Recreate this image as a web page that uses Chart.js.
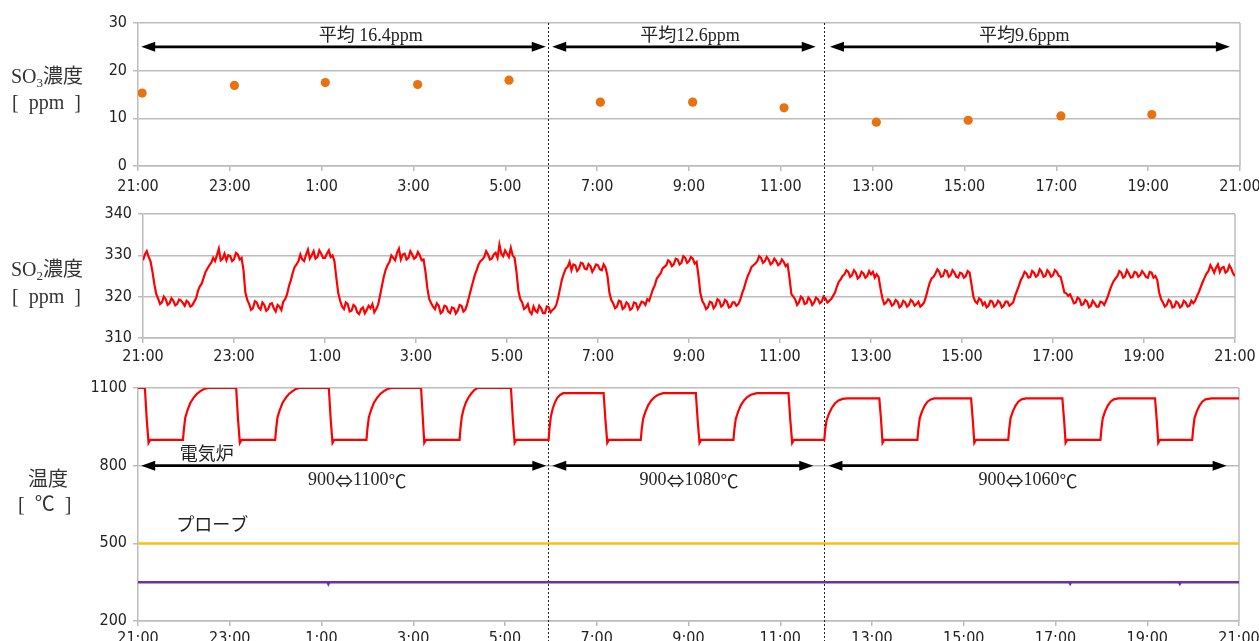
<!DOCTYPE html>
<html>
<head>
<meta charset="utf-8">
<script src="https://cdn.jsdelivr.net/npm/chart.js@4.4.1/dist/chart.umd.min.js"></script>
<style>
html, body { margin: 0; padding: 0; background: #fff; }
#wrap { position: relative; width: 1259px; height: 641px; overflow: hidden; background: #fff; }
canvas { position: absolute; left: 0; }
.ttl { position: absolute; font-family: "Liberation Serif", "Noto Sans CJK JP", serif; font-size: 20px; color: #333; white-space: pre; line-height: 1; }
.ttl sub { font-size: 13px; vertical-align: baseline; position: relative; top: 4px; }
</style>
</head>
<body>
<div id="wrap">
  <canvas id="so3Chart" width="1320" height="195" style="top:0px"></canvas>
  <canvas id="so2Chart" width="1320" height="177" style="top:195px"></canvas>
  <canvas id="tempChart" width="1320" height="269" style="top:372px"></canvas>
  <div class="ttl" style="left:11px; top:66px;">SO<sub>3</sub>濃度</div>
  <div class="ttl" style="left:12px; top:92px;">[  ppm  ]</div>
  <div class="ttl" style="left:11px; top:259px;">SO<sub>2</sub>濃度</div>
  <div class="ttl" style="left:12px; top:286px;">[  ppm  ]</div>
  <div class="ttl" style="left:28px; top:469px;">温度</div>
  <div class="ttl" style="left:18px; top:494px;">[  ℃  ]</div>
</div>
<script>
// ---- time axis: hours elapsed since 21:00 ----
const hourTickLabels = ['21:00', '23:00', '1:00', '3:00', '5:00', '7:00', '9:00',
                        '11:00', '13:00', '15:00', '17:00', '19:00', '21:00'];

// ---- SO3 concentration (ppm), one sample about every 2 hours ----
const so3Hours = [0.09, 2.10, 4.08, 6.09, 8.08, 10.07, 12.08, 14.07, 16.08, 18.08, 20.10, 22.08];
const so3Ppm   = [15.3, 16.9, 17.5, 17.1, 18.0, 13.4, 13.4, 12.2, 9.2, 9.6, 10.5, 10.8];

// ---- SO2 concentration (ppm), logged every 2.5 minutes from 21:00 (one row per hour) ----
const so2StepMinutes = 2.5;
const so2Ppm = [
  328.8, 330.2, 331.0, 329.6, 328.5, 326.0, 323.0, 320.6, 319.5, 318.2, 318.6, 320.0, 319.4, 318.0, 318.4, 319.6, 319.0, 317.9, 318.2, 319.3, 319.1, 318.5, 317.8, 319.0,
  318.6, 317.6, 317.9, 318.8, 319.6, 321.4, 322.5, 323.2, 324.6, 326.0, 326.8, 327.6, 328.2, 329.4, 328.6, 330.0, 331.6, 328.8, 329.2, 330.4, 328.8, 330.0, 329.8, 328.6,
  329.0, 330.6, 330.2, 329.0, 329.4, 326.5, 321.0, 319.2, 318.2, 316.8, 317.2, 318.9, 318.6, 317.4, 316.9, 318.6, 318.0, 316.6, 317.0, 318.2, 318.4, 317.2, 316.4, 318.0,
  317.6, 316.8, 318.8, 319.4, 320.6, 322.6, 324.0, 325.8, 327.2, 327.8, 328.6, 330.2, 329.0, 328.6, 330.2, 331.4, 329.2, 330.0, 331.0, 329.2, 329.6, 331.2, 330.4, 329.4,
  329.4, 330.4, 331.2, 329.6, 330.0, 328.5, 324.5, 320.8, 319.0, 317.6, 317.0, 318.6, 318.2, 316.4, 316.6, 318.0, 317.6, 316.2, 315.8, 317.0, 317.4, 316.0, 316.8, 317.8,
  317.2, 318.2, 316.2, 317.0, 318.0, 320.2, 322.5, 324.8, 326.5, 327.6, 328.4, 330.0, 329.4, 328.8, 330.6, 331.6, 329.0, 330.2, 330.4, 329.0, 329.4, 331.0, 330.2, 329.2,
  329.6, 330.8, 330.0, 328.8, 329.0, 326.0, 322.0, 319.4, 318.4, 317.6, 317.0, 318.4, 317.8, 316.0, 316.4, 317.8, 317.6, 316.4, 316.0, 317.4, 317.2, 315.9, 316.6, 318.0,
  317.8, 316.4, 316.8, 318.2, 320.0, 321.8, 323.5, 325.2, 326.4, 327.8, 328.6, 329.0, 329.6, 331.0, 330.2, 329.0, 329.2, 330.2, 330.6, 329.4, 332.6, 330.4, 329.8, 331.2,
  330.4, 329.6, 331.8, 330.0, 329.4, 326.0, 321.5, 319.4, 318.6, 317.0, 317.4, 318.2, 316.4, 315.8, 317.6, 316.6, 316.2, 317.8, 317.2, 316.0, 316.0, 317.6, 317.4, 316.2,
  316.8, 317.2, 318.0, 319.8, 322.0, 324.2, 325.6, 326.8, 327.2, 328.4, 326.4, 327.8, 327.6, 326.2, 326.8, 328.2, 328.0, 326.8, 326.6, 327.9, 327.4, 326.0, 326.8, 327.8,
  327.6, 326.6, 326.4, 327.8, 327.0, 325.0, 321.0, 319.2, 318.4, 317.2, 317.6, 319.0, 318.8, 317.0, 317.4, 318.6, 318.2, 316.8, 317.2, 318.6, 318.4, 317.0, 317.8, 318.8,
  318.6, 318.0, 319.4, 319.0, 320.4, 321.8, 322.8, 324.4, 325.0, 325.6, 326.8, 327.2, 327.6, 328.8, 328.4, 327.4, 327.8, 329.2, 329.0, 327.8, 328.2, 329.8, 329.4, 328.2,
  328.6, 329.6, 329.2, 328.0, 328.4, 325.0, 320.8, 319.0, 318.2, 317.0, 317.4, 318.8, 318.6, 317.2, 317.8, 319.4, 319.0, 317.6, 318.0, 319.2, 318.8, 317.4, 317.6, 318.6,
  318.6, 317.8, 318.2, 319.2, 320.8, 322.0, 323.6, 325.0, 326.0, 327.2, 327.6, 328.0, 328.6, 329.8, 329.4, 328.2, 328.6, 329.6, 329.0, 327.8, 328.2, 329.2, 328.6, 327.6,
  328.0, 329.0, 328.4, 327.4, 327.8, 324.6, 320.6, 320.0, 319.4, 318.0, 318.6, 320.0, 319.6, 318.2, 318.4, 319.8, 319.2, 318.0, 318.6, 319.8, 319.4, 318.4, 318.8, 320.0,
  319.6, 318.6, 319.0, 319.4, 320.2, 321.0, 322.4, 323.6, 324.2, 325.0, 325.4, 326.4, 326.0, 324.8, 325.2, 326.4, 325.8, 324.4, 324.8, 326.0, 325.6, 324.6, 325.0, 326.2,
  325.4, 326.0, 324.6, 325.4, 324.8, 322.0, 319.6, 318.2, 318.6, 319.4, 319.0, 317.8, 318.2, 319.2, 318.8, 317.4, 317.8, 319.0, 318.6, 317.6, 318.0, 319.2, 318.8, 317.8,
  318.2, 318.8, 317.6, 318.0, 318.6, 320.0, 321.8, 323.4, 324.4, 324.8, 325.6, 326.6, 326.0, 324.8, 325.0, 326.4, 326.2, 324.8, 325.2, 326.4, 325.8, 324.8, 324.6, 325.8,
  325.6, 324.6, 325.0, 326.2, 325.8, 323.0, 320.0, 318.8, 318.4, 319.6, 319.2, 318.0, 318.6, 317.4, 317.8, 319.0, 318.8, 317.6, 318.0, 319.0, 318.6, 317.4, 317.8, 318.8,
  318.8, 317.8, 318.2, 318.6, 320.2, 321.4, 322.6, 324.0, 324.8, 326.0, 325.6, 324.6, 324.8, 326.2, 325.8, 324.8, 325.2, 326.6, 326.0, 324.8, 325.0, 326.4, 325.8, 324.8,
  325.2, 326.4, 326.0, 325.0, 324.8, 323.0, 321.0, 320.8, 320.2, 320.6, 319.6, 318.4, 318.6, 319.8, 319.4, 318.0, 318.2, 319.2, 318.8, 317.4, 317.8, 319.0, 318.4, 317.6,
  317.6, 318.8, 318.6, 318.0, 319.0, 320.2, 321.6, 322.8, 323.8, 324.4, 325.0, 326.2, 325.8, 324.6, 325.0, 326.4, 325.6, 324.6, 324.8, 326.0, 325.8, 324.8, 325.2, 326.2,
  325.6, 324.8, 324.6, 326.0, 325.8, 324.6, 325.0, 324.0, 321.0, 319.4, 318.6, 317.6, 318.0, 319.2, 318.8, 317.4, 317.6, 318.8, 318.4, 317.4, 317.8, 319.0, 318.6, 317.6,
  317.8, 319.0, 318.4, 319.0, 320.2, 321.2, 322.4, 323.6, 324.6, 325.6, 326.2, 327.6, 326.8, 325.8, 327.0, 327.8, 326.0, 327.0, 327.2, 325.8, 326.2, 327.6, 326.8, 325.6,
  325.0
];

// ---- electric furnace temperature (°C) ----
const furnaceHours = [
  0.00, 0.15, 0.19, 0.23, 0.27, 0.98, 1.00, 1.03, 1.08, 1.14, 1.21, 1.28, 1.36, 1.44, 1.54,
  2.14, 2.18, 2.22, 2.26, 2.99, 3.01, 3.04, 3.09, 3.15, 3.22, 3.29, 3.37, 3.44, 3.52,
  4.16, 4.20, 4.24, 4.28, 4.98, 5.00, 5.03, 5.08, 5.14, 5.21, 5.28, 5.36, 5.44, 5.53,
  6.17, 6.21, 6.24, 6.28, 7.01, 7.03, 7.06, 7.10, 7.15, 7.21, 7.27, 7.33, 7.40,
  8.13, 8.17, 8.21, 8.25, 8.95, 8.97, 9.00, 9.04, 9.09, 9.14, 9.20, 9.27,
  10.15, 10.19, 10.23, 10.27, 10.96, 10.98, 11.01, 11.06, 11.12, 11.19, 11.26, 11.34, 11.45,
  12.16, 12.20, 12.24, 12.28, 12.98, 13.00, 13.03, 13.08, 13.14, 13.21, 13.28, 13.36, 13.49,
  14.18, 14.22, 14.26, 14.30, 14.96, 14.98, 15.01, 15.06, 15.12, 15.19, 15.27, 15.36, 15.46,
  16.16, 16.20, 16.23, 16.27, 16.99, 17.01, 17.04, 17.09, 17.15, 17.21, 17.28, 17.36,
  18.16, 18.20, 18.23, 18.27, 18.97, 18.99, 19.02, 19.07, 19.13, 19.19, 19.26, 19.36,
  20.15, 20.19, 20.22, 20.26, 20.98, 21.00, 21.03, 21.08, 21.14, 21.20, 21.27, 21.37,
  22.17, 22.21, 22.24, 22.28, 22.98, 23.00, 23.03, 23.08, 23.14, 23.20, 23.27, 23.40, 24.00
];
const furnaceTemp = [
  1100, 1100, 980, 888, 900, 900, 940, 985, 1015, 1042, 1062, 1077, 1088, 1096, 1100,
  1100, 980, 888, 900, 900, 940, 985, 1015, 1042, 1062, 1077, 1088, 1096, 1100,
  1100, 980, 888, 900, 900, 940, 985, 1015, 1042, 1062, 1077, 1088, 1096, 1100,
  1100, 980, 888, 900, 900, 945, 990, 1020, 1045, 1065, 1080, 1092, 1100,
  1100, 980, 888, 900, 900, 945, 990, 1020, 1045, 1062, 1073, 1080,
  1080, 975, 888, 900, 900, 940, 980, 1008, 1033, 1052, 1065, 1074, 1080,
  1080, 975, 888, 900, 900, 940, 980, 1008, 1033, 1052, 1065, 1074, 1080,
  1080, 975, 888, 900, 900, 940, 975, 1000, 1022, 1040, 1052, 1058, 1060,
  1060, 970, 888, 900, 900, 940, 983, 1010, 1032, 1047, 1056, 1060,
  1060, 970, 888, 900, 900, 940, 983, 1010, 1032, 1047, 1056, 1060,
  1060, 970, 888, 900, 900, 940, 983, 1010, 1032, 1047, 1056, 1060,
  1060, 970, 888, 900, 900, 940, 983, 1010, 1032, 1047, 1056, 1060, 1060
];

// ---- probe temperatures (°C) ----
const probeHours = [0, 24];
const probeTemp  = [500, 500];
const probeLowHours = [0, 4.13, 4.15, 4.17, 20.30, 20.32, 20.34, 22.69, 22.71, 22.73, 24];
const probeLowTemp  = [350, 350, 343, 350, 350, 344, 350, 350, 344, 350, 350];

// ---- test condition boundaries (hours since 21:00) ----
const periodStart = [0, 8.93, 14.95];
const periodEnd   = [8.93, 14.95, 24];
const so3Average  = ['平均 16.4ppm', '平均12.6ppm', '平均9.6ppm'];
const furnaceRange = ['900⇔1100℃', '900⇔1080℃', '900⇔1060℃'];

// ---------------------------------------------------------------
const CANVAS_W = 1320;   // wider than the page so the last tick label never squeezes the plot
const gridColor = '#bcbcbc';
const tickFont = { family: '"Liberation Sans Narrow", "DejaVu Sans Condensed", "Liberation Sans", sans-serif', size: 16 };
const serifFont = '18px "Liberation Serif", "Noto Sans CJK JP", serif';
const wideFont  = '18px "Noto Sans CJK JP", sans-serif';
let topPanel = null;   // its time scale places the period dividers on every panel

function drawArrow(ctx, x1, x2, y) {
  const head = 14, half = 5;
  ctx.save();
  ctx.strokeStyle = '#000';
  ctx.fillStyle = '#000';
  ctx.lineWidth = 2.6;
  ctx.beginPath();
  ctx.moveTo(x1 + head - 2, y);
  ctx.lineTo(x2 - head + 2, y);
  ctx.stroke();
  ctx.beginPath();
  ctx.moveTo(x1, y); ctx.lineTo(x1 + head, y - half); ctx.lineTo(x1 + head, y + half); ctx.closePath();
  ctx.fill();
  ctx.beginPath();
  ctx.moveTo(x2, y); ctx.lineTo(x2 - head, y - half); ctx.lineTo(x2 - head, y + half); ctx.closePath();
  ctx.fill();
  ctx.restore();
}

// centred note text; arrows and degree signs use the full-width CJK glyphs
function drawNote(ctx, text, cx, cy) {
  const runs = [];
  for (const ch of text) {
    const wide = /[⇔℃]/.test(ch);
    const last = runs[runs.length - 1];
    if (last && last.wide === wide) last.t += ch; else runs.push({ t: ch, wide });
  }
  let total = 0;
  runs.forEach(r => { ctx.font = r.wide ? wideFont : serifFont; r.w = ctx.measureText(r.t).width; total += r.w; });
  let x = cx - total / 2;
  ctx.textAlign = 'left';
  ctx.textBaseline = 'middle';
  runs.forEach(r => { ctx.font = r.wide ? wideFont : serifFont; ctx.fillText(r.t, x, cy); x += r.w; });
}

// frame, period dividers, arrows and notes
const decorPlugin = {
  id: 'decor',
  beforeDatasetsDraw(chart, args, o) {
    const { ctx, chartArea: a } = chart;
    const tx = (topPanel || chart).scales.x;
    ctx.save();
    ctx.strokeStyle = gridColor;
    ctx.lineWidth = 1.5;
    ctx.beginPath();
    ctx.moveTo(a.right, a.top);
    ctx.lineTo(a.right, a.bottom);
    ctx.stroke();
    ctx.strokeStyle = '#222';
    ctx.lineWidth = 1;
    ctx.setLineDash([2, 2]);
    (o.dividers || []).forEach(h => {
      const px = Math.round(tx.getPixelForValue(h)) + 0.5;
      ctx.beginPath();
      ctx.moveTo(px, o.dividerFromTop ? 0 : a.top);
      ctx.lineTo(px, chart.height);
      ctx.stroke();
    });
    ctx.restore();
  },
  afterDatasetsDraw(chart, args, o) {
    const { ctx, scales: { x, y } } = chart;
    (o.arrows || []).forEach(ar => {
      drawArrow(ctx, x.getPixelForValue(ar.from), x.getPixelForValue(ar.to), y.getPixelForValue(ar.level));
    });
    ctx.save();
    ctx.fillStyle = '#222';
    (o.notes || []).forEach(n => drawNote(ctx, n.text, x.getPixelForValue(n.at), y.getPixelForValue(n.level)));
    ctx.restore();
  }
};

function makePanel(id, cfg) {
  const area = cfg.area;
  return new Chart(document.getElementById(id), {
    type: 'line',
    data: { datasets: cfg.datasets },
    options: {
      responsive: false,
      animation: false,
      events: [],
      layout: { autoPadding: false, padding: { left: 0, right: CANVAS_W - area.right, top: area.top, bottom: 0 } },
      plugins: { legend: { display: false }, tooltip: { enabled: false }, decor: cfg.decor },
      scales: {
        x: {
          type: 'linear', min: 0, max: 24,
          afterFit(s) { s.height = cfg.height - area.bottom; },
          ticks: { stepSize: 2, autoSkip: false, maxRotation: 0, color: '#222', font: tickFont, padding: cfg.xPad,
                   callback: v => hourTickLabels[Math.round(v / 2)] },
          grid: { drawOnChartArea: false, drawTicks: true, tickLength: 5, color: gridColor, lineWidth: 1.5 },
          border: { color: gridColor, width: 1.5 }
        },
        y: {
          min: cfg.yMin, max: cfg.yMax,
          afterFit(s) { s.width = area.left; },
          ticks: { stepSize: cfg.yStep, color: '#222', font: tickFont, padding: 6, callback: v => String(v) },
          grid: { color: gridColor, lineWidth: 1.5, tickLength: 5 },
          border: { color: gridColor, width: 1.5 }
        }
      }
    },
    plugins: [decorPlugin]
  });
}

const pts = (xs, ys) => ys.map((v, i) => ({ x: xs[i], y: v }));

// SO3 panel
topPanel = makePanel('so3Chart', {
  height: 195, xPad: 6,
  area: { left: 138, right: 1240, top: 23, bottom: 166 },
  yMin: 0, yMax: 30, yStep: 10,
  datasets: [{
    data: pts(so3Hours, so3Ppm), showLine: false,
    pointRadius: 4.6, pointBackgroundColor: '#e8720f', pointBorderWidth: 0
  }],
  decor: {
    dividers: periodStart.slice(1), dividerFromTop: false,
    arrows: [
      { from: 0.07, to: 8.88, level: 25 },
      { from: 9.02, to: 14.76, level: 25 },
      { from: 15.07, to: 23.78, level: 25 }
    ],
    notes: [
      { text: so3Average[0], at: 5.07, level: 27.3 },
      { text: so3Average[1], at: 12.02, level: 27.3 },
      { text: so3Average[2], at: 19.3, level: 27.3 }
    ]
  }
});

// SO2 panel
makePanel('so2Chart', {
  height: 177, xPad: 4,
  area: { left: 143, right: 1235, top: 19, bottom: 143 },
  yMin: 310, yMax: 340, yStep: 10,
  datasets: [{
    data: so2Ppm.map((v, i) => ({ x: i * so2StepMinutes / 60, y: v })),
    borderColor: '#ff0000', borderWidth: 2.2, pointRadius: 0, tension: 0
  }],
  decor: { dividers: periodStart.slice(1), dividerFromTop: true }
});

// temperature panel
makePanel('tempChart', {
  height: 269, xPad: 3,
  area: { left: 138, right: 1239, top: 16, bottom: 249 },
  yMin: 200, yMax: 1100, yStep: 300,
  datasets: [
    { data: pts(furnaceHours, furnaceTemp), borderColor: '#ff0000', borderWidth: 2.2, pointRadius: 0, tension: 0 },
    { data: pts(probeHours, probeTemp), borderColor: '#ffc000', borderWidth: 2.2, pointRadius: 0 },
    { data: pts(probeLowHours, probeLowTemp), borderColor: '#7030a0', borderWidth: 2.5, pointRadius: 0 }
  ],
  decor: {
    dividers: periodStart.slice(1), dividerFromTop: true,
    arrows: [
      { from: 0.07, to: 8.9, level: 800 },
      { from: 9.03, to: 14.72, level: 800 },
      { from: 15.05, to: 23.73, level: 800 }
    ],
    notes: [
      { text: '電気炉', at: 1.5, level: 842 },
      { text: 'プローブ', at: 1.62, level: 565 },
      { text: furnaceRange[0], at: 4.78, level: 742 },
      { text: furnaceRange[1], at: 12.01, level: 742 },
      { text: furnaceRange[2], at: 19.4, level: 742 }
    ]
  }
});
</script>
</body>
</html>
